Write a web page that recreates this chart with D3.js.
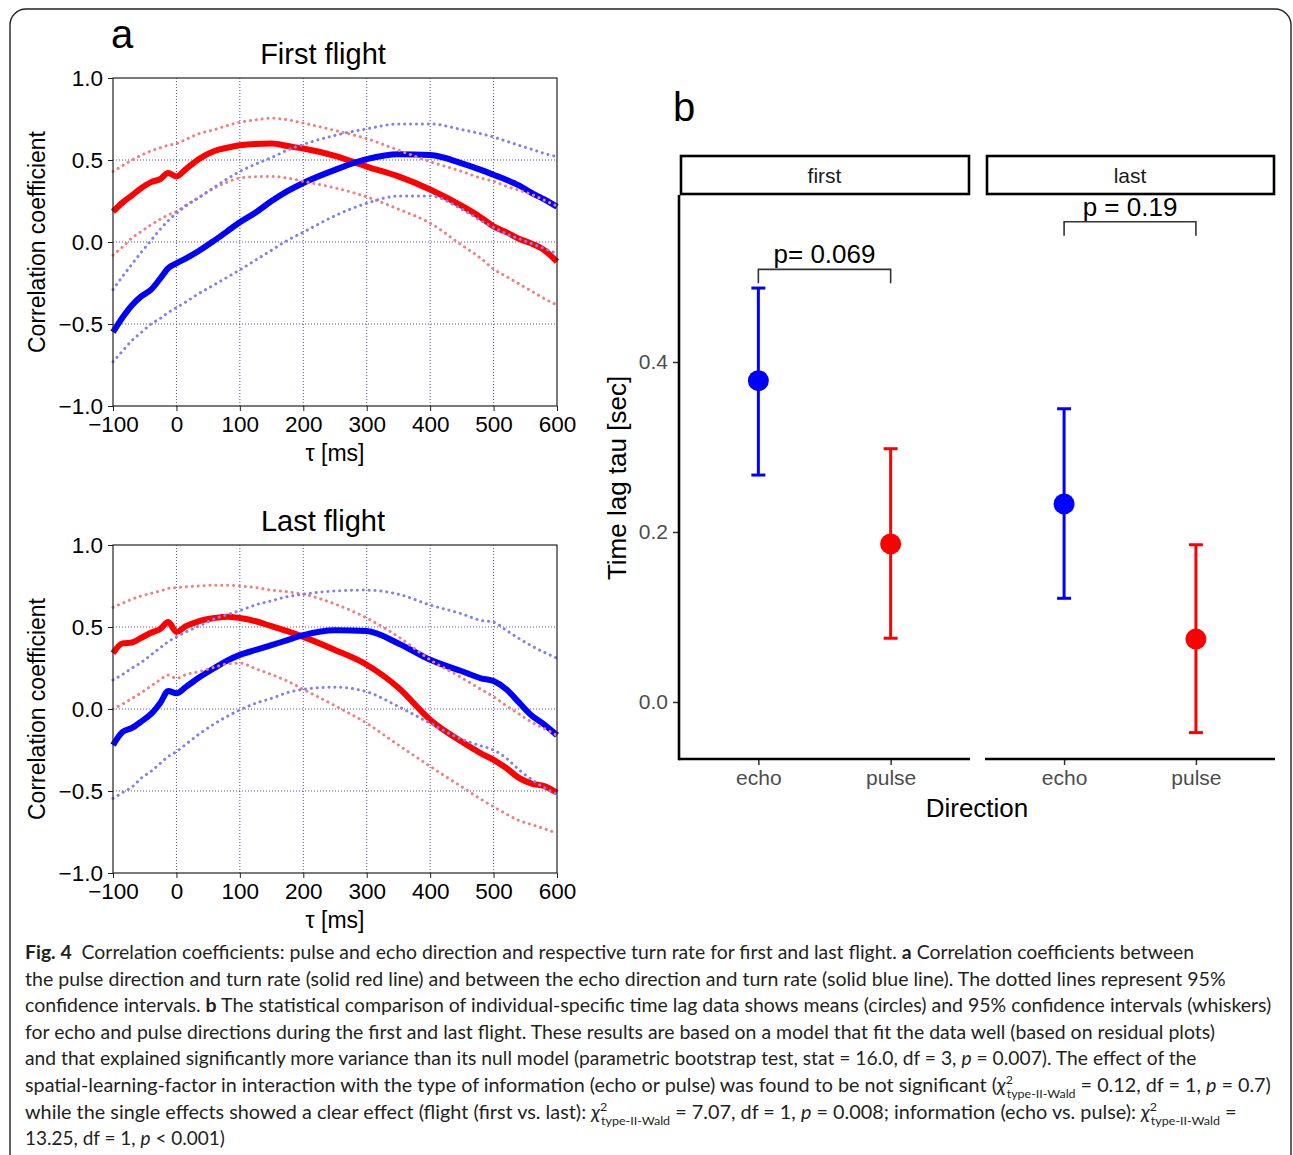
<!DOCTYPE html>
<html lang="en">
<head>
<meta charset="UTF-8">
<title>Fig. 4</title>
<script src="https://d3js.org/d3.v7.min.js"></script>
<style>
  body { margin: 0; background: #fff; }
  svg { display: block; }
  .pa text { font-family: 'Liberation Sans', Arial, sans-serif; fill: #000; }
  .pb text { font-family: 'Liberation Sans', Arial, sans-serif; }
  .cap text { font-family: Lato, 'Noto Sans', sans-serif; font-size: 19px; fill: #231f20; }
</style>
</head>
<body>
<svg id="fig" width="1293" height="1155"></svg>
<script>
// ---- panel a data (tau in ms, correlation coefficients) ----
var tau = [-100, -85, -70, -55, -40, -25, -13, 0, 15, 35, 60, 80, 100, 125, 150, 175, 200,
           250, 300, 350, 400, 450, 480, 500, 520, 540, 560, 580, 600];

// first flight
var pulseFirst   = [0.185, 0.24, 0.285, 0.33, 0.365, 0.385, 0.42, 0.40, 0.445, 0.505, 0.555, 0.575, 0.59, 0.598, 0.60, 0.585, 0.57,
                    0.525, 0.46, 0.40, 0.32, 0.22, 0.15, 0.095, 0.06, 0.02, -0.01, -0.05, -0.12];
var pulseFirstHi = [0.43, 0.465, 0.50, 0.53, 0.555, 0.575, 0.59, 0.60, 0.625, 0.66, 0.685, 0.71, 0.73, 0.745, 0.755, 0.745, 0.725,
                    0.68, 0.63, 0.56, 0.49, 0.43, 0.39, 0.37, 0.34, 0.315, 0.29, 0.255, 0.22];
var pulseFirstLo = [-0.08, -0.03, 0.025, 0.065, 0.105, 0.14, 0.165, 0.185, 0.225, 0.27, 0.33, 0.365, 0.39, 0.398, 0.40, 0.39, 0.37,
                    0.33, 0.275, 0.20, 0.115, -0.02, -0.10, -0.165, -0.21, -0.255, -0.30, -0.345, -0.385];
var echoFirst    = [-0.55, -0.46, -0.385, -0.33, -0.29, -0.22, -0.16, -0.13, -0.10, -0.055, 0.01, 0.065, 0.12, 0.18, 0.25, 0.31, 0.36,
                    0.44, 0.505, 0.535, 0.53, 0.48, 0.44, 0.41, 0.38, 0.345, 0.30, 0.26, 0.215];
var echoFirstHi  = [-0.29, -0.21, -0.135, -0.06, 0.01, 0.08, 0.13, 0.175, 0.22, 0.27, 0.335, 0.385, 0.43, 0.475, 0.515, 0.56, 0.595,
                    0.65, 0.69, 0.72, 0.72, 0.685, 0.66, 0.64, 0.615, 0.59, 0.565, 0.54, 0.52];
var echoFirstLo  = [-0.73, -0.665, -0.60, -0.55, -0.50, -0.465, -0.43, -0.40, -0.365, -0.315, -0.26, -0.215, -0.17, -0.11, -0.05, 0.01, 0.06,
                    0.16, 0.236, 0.28, 0.28, 0.20, 0.13, 0.09, 0.05, 0.02, -0.01, -0.04, -0.07];

// last flight
var pulseLast    = [0.34, 0.40, 0.405, 0.435, 0.465, 0.49, 0.53, 0.47, 0.505, 0.535, 0.555, 0.563, 0.555, 0.535, 0.505, 0.475, 0.44,
                    0.36, 0.27, 0.13, -0.065, -0.20, -0.27, -0.31, -0.36, -0.42, -0.455, -0.47, -0.51];
var pulseLastHi  = [0.62, 0.645, 0.67, 0.69, 0.705, 0.72, 0.735, 0.74, 0.745, 0.75, 0.755, 0.755, 0.75, 0.74, 0.725, 0.715, 0.70,
                    0.64, 0.555, 0.44, 0.30, 0.19, 0.12, 0.075, 0.02, -0.03, -0.08, -0.12, -0.16];
var pulseLastLo  = [0.0, 0.03, 0.065, 0.10, 0.14, 0.18, 0.207, 0.187, 0.21, 0.227, 0.255, 0.275, 0.28, 0.245, 0.21, 0.17, 0.12,
                    0.02, -0.087, -0.22, -0.35, -0.475, -0.55, -0.596, -0.64, -0.68, -0.705, -0.73, -0.758];
var echoLast     = [-0.22, -0.14, -0.115, -0.075, -0.03, 0.04, 0.11, 0.096, 0.135, 0.19, 0.25, 0.295, 0.33, 0.36, 0.39, 0.42, 0.45,
                    0.48, 0.475, 0.40, 0.30, 0.23, 0.187, 0.17, 0.12, 0.04, -0.04, -0.095, -0.16];
var echoLastHi   = [0.177, 0.21, 0.25, 0.285, 0.33, 0.375, 0.41, 0.44, 0.47, 0.505, 0.55, 0.575, 0.60, 0.635, 0.66, 0.685, 0.70,
                    0.72, 0.725, 0.70, 0.634, 0.58, 0.54, 0.53, 0.48, 0.43, 0.385, 0.345, 0.31];
var echoLastLo   = [-0.545, -0.51, -0.475, -0.42, -0.38, -0.33, -0.29, -0.26, -0.215, -0.155, -0.09, -0.045, -0.006, 0.035, 0.065, 0.10, 0.12,
                    0.133, 0.105, 0.015, -0.087, -0.185, -0.225, -0.25, -0.30, -0.37, -0.43, -0.48, -0.52];

var tauTicks = [-100, 0, 100, 200, 300, 400, 500, 600];
var corrTicks = [-1, -0.5, 0, 0.5, 1];

// ---- panel b data (time lag tau in sec) ----
var directions = ["echo", "pulse"];
var flights = ["first", "last"];
var meanFirst  = [0.378, 0.186];
var lowFirst   = [0.267, 0.075];
var highFirst  = [0.487, 0.298];
var meanLast   = [0.233, 0.074];
var lowLast    = [0.122, -0.036];
var highLast   = [0.345, 0.185];
var pLabels = ["p= 0.069", "p = 0.19"];
var lagTicks = [0.0, 0.2, 0.4];

var svg = d3.select("#fig");

// outer rounded frame
svg.append("rect")
  .attr("x", 10).attr("y", 9).attr("width", 1281).attr("height", 1300)
  .attr("rx", 16)
  .attr("fill", "none").attr("stroke", "#222").attr("stroke-width", 1.4);

// ================= panel a =================
var pa = svg.append("g").attr("class", "pa");
pa.append("text").attr("x", 111).attr("y", 48).attr("font-size", 40).text("a");

var x = d3.scaleLinear().domain([-100, 600]).range([113, 557]);

function drawCorr(top, title, pulse, pulseHi, pulseLo, echo, echoHi, echoLo) {
  var y = d3.scaleLinear().domain([-1, 1]).range([top + 328, top]);
  var g = pa.append("g");

  // dotted grid
  g.selectAll(".gx").data(tauTicks.slice(1, -1)).enter().append("line")
    .attr("x1", d => x(d)).attr("x2", d => x(d))
    .attr("y1", y(-1)).attr("y2", y(1))
    .attr("stroke", "#3a3aa8").attr("stroke-width", 0.9).attr("stroke-dasharray", "1,2");
  g.selectAll(".gy").data(corrTicks.slice(1, -1)).enter().append("line")
    .attr("y1", d => y(d)).attr("y2", d => y(d))
    .attr("x1", x(-100)).attr("x2", x(600))
    .attr("stroke", "#3a3aa8").attr("stroke-width", 0.9).attr("stroke-dasharray", "1,2");

  var line = d3.line().x((d, i) => x(tau[i])).y(d => y(d)).curve(d3.curveMonotoneX);

  [[pulse, "#ff0000"], [echo, "#0000ff"]].forEach(function (s) {
    g.append("path").datum(s[0]).attr("d", line)
      .attr("fill", "none").attr("stroke", s[1]).attr("stroke-width", 6)
      .attr("stroke-linejoin", "round");
  });
  [[pulseHi, "#f27f7f"], [pulseLo, "#f27f7f"], [echoHi, "#8080f2"], [echoLo, "#8080f2"]].forEach(function (s) {
    g.append("path").datum(s[0]).attr("d", line)
      .attr("fill", "none").attr("stroke", s[1]).attr("stroke-width", 3)
      .attr("stroke-linecap", "round").attr("stroke-dasharray", "0.1,5.8");
  });

  // frame
  g.append("rect").attr("x", x(-100)).attr("y", y(1))
    .attr("width", x(600) - x(-100)).attr("height", y(-1) - y(1))
    .attr("fill", "none").attr("stroke", "#222").attr("stroke-width", 1.2);

  var ax = g.append("g").attr("transform", "translate(0," + y(-1) + ")")
    .call(d3.axisBottom(x).tickValues(tauTicks).tickSize(5).tickPadding(5).tickFormat(d3.format("d")));
  var ay = g.append("g").attr("transform", "translate(" + x(-100) + ",0)")
    .call(d3.axisLeft(y).tickValues(corrTicks).tickSize(5).tickPadding(5).tickFormat(d3.format(".1f")));
  [ax, ay].forEach(function (a) {
    a.select(".domain").remove();
    a.selectAll("line").attr("stroke", "#222");
    a.selectAll("text").attr("font-size", 22.5).attr("font-family", "'Liberation Sans', Arial, sans-serif").attr("fill", "#000");
  });

  g.append("text").attr("x", 323).attr("y", top - 14).attr("text-anchor", "middle")
    .attr("font-size", 29).text(title);
  g.append("text").attr("x", 335).attr("y", top + 383).attr("text-anchor", "middle")
    .attr("font-size", 23).text("τ [ms]");
  g.append("text").attr("transform", "translate(45," + (top + 164) + ") rotate(-90)")
    .attr("text-anchor", "middle").attr("font-size", 23).text("Correlation coefficient");
}

drawCorr(78, "First flight", pulseFirst, pulseFirstHi, pulseFirstLo, echoFirst, echoFirstHi, echoFirstLo);
drawCorr(545, "Last flight", pulseLast, pulseLastHi, pulseLastLo, echoLast, echoLastHi, echoLastLo);

// ================= panel b =================
var pb = svg.append("g").attr("class", "pb");
pb.append("text").attr("x", 673).attr("y", 121).attr("font-size", 40).attr("fill", "#000").text("b");

var yb = d3.scaleLinear().domain([0, 0.4]).range([702, 362]);
var panelTop = 195, panelBottom = 759;
var panels = [
  { flight: flights[0], x0: 679, x1: 970, mean: meanFirst, lo: lowFirst, hi: highFirst, p: pLabels[0], bracket: 0.509 },
  { flight: flights[1], x0: 985, x1: 1275, mean: meanLast, lo: lowLast, hi: highLast, p: pLabels[1], bracket: 0.565 }
];
var dirColor = d3.scaleOrdinal().domain(directions).range(["#0000ff", "#ff0000"]);

panels.forEach(function (p, k) {
  var xb = d3.scalePoint().domain(directions).range([p.x0, p.x1]).padding(0.6);
  var g = pb.append("g");

  // strip
  g.append("rect").attr("x", p.x0 + 2).attr("y", 156).attr("width", p.x1 - p.x0 - 3).attr("height", 38)
    .attr("fill", "#fff").attr("stroke", "#000").attr("stroke-width", 2.6);
  g.append("text").attr("x", (p.x0 + p.x1) / 2).attr("y", 183).attr("text-anchor", "middle")
    .attr("font-size", 21).attr("fill", "#1a1a1a").text(p.flight);

  // bottom axis
  var ax = g.append("g").attr("transform", "translate(0," + panelBottom + ")")
    .call(d3.axisBottom(xb).tickSize(6).tickPadding(5));
  ax.select(".domain").remove();
  ax.selectAll("line").attr("stroke", "#333").attr("stroke-width", 1.5);
  ax.selectAll("text").attr("font-size", 21).attr("fill", "#4d4d4d")
    .attr("font-family", "'Liberation Sans', Arial, sans-serif");
  g.append("line").attr("x1", p.x0).attr("x2", p.x1).attr("y1", panelBottom).attr("y2", panelBottom)
    .attr("stroke", "#000").attr("stroke-width", 2.6);

  if (k === 0) {
    var ay = g.append("g").attr("transform", "translate(" + p.x0 + ",0)")
      .call(d3.axisLeft(yb).tickValues(lagTicks).tickSize(6).tickPadding(5).tickFormat(d3.format(".1f")));
    ay.select(".domain").remove();
    ay.selectAll("line").attr("stroke", "#333").attr("stroke-width", 1.5);
    ay.selectAll("text").attr("font-size", 21).attr("fill", "#4d4d4d")
      .attr("font-family", "'Liberation Sans', Arial, sans-serif");
    g.append("line").attr("x1", p.x0).attr("x2", p.x0).attr("y1", panelTop).attr("y2", panelBottom + 1.3)
      .attr("stroke", "#000").attr("stroke-width", 2.6);
  }

  // error bars + means
  directions.forEach(function (d, i) {
    var cx = xb(d), c = dirColor(d);
    g.append("line").attr("x1", cx).attr("x2", cx).attr("y1", yb(p.lo[i])).attr("y2", yb(p.hi[i]))
      .attr("stroke", c).attr("stroke-width", 3);
    [p.lo[i], p.hi[i]].forEach(function (v) {
      g.append("line").attr("x1", cx - 7).attr("x2", cx + 7).attr("y1", yb(v)).attr("y2", yb(v))
        .attr("stroke", c).attr("stroke-width", 3);
    });
    g.append("circle").attr("cx", cx).attr("cy", yb(p.mean[i])).attr("r", 10.5).attr("fill", c);
  });

  // significance bracket
  var by = yb(p.bracket), tip = 14;
  g.append("path")
    .attr("d", "M" + xb(directions[0]) + "," + (by + tip) + "V" + by + "H" + xb(directions[1]) + "V" + (by + tip))
    .attr("fill", "none").attr("stroke", "#333").attr("stroke-width", 1.6);
  g.append("text").attr("x", (xb(directions[0]) + xb(directions[1])) / 2).attr("y", by - 6)
    .attr("text-anchor", "middle").attr("font-size", 26).attr("fill", "#000").text(p.p);
});

pb.append("text").attr("x", 977).attr("y", 817).attr("text-anchor", "middle")
  .attr("font-size", 26).attr("fill", "#000").text("Direction");
pb.append("text").attr("transform", "translate(626,478) rotate(-90)").attr("text-anchor", "middle")
  .attr("font-size", 26).attr("fill", "#000").text("Time lag tau [sec]");

// ================= caption =================
var chi = [{ t: "χ", i: true }, { t: "2", sup: true }, { t: "type-II-Wald", sub: true }];
var capLines = [
  { w: 1170, segs: [{ t: "Fig. 4", b: true }, { t: "  Correlation coefficients: pulse and echo direction and respective turn rate for first and last flight. " }, { t: "a", b: true }, { t: " Correlation coefficients between" }] },
  { w: 1201, segs: [{ t: "the pulse direction and turn rate (solid red line) and between the echo direction and turn rate (solid blue line). The dotted lines represent 95%" }] },
  { w: 1247, segs: [{ t: "confidence intervals. " }, { t: "b", b: true }, { t: " The statistical comparison of individual-specific time lag data shows means (circles) and 95% confidence intervals (whiskers)" }] },
  { w: 1190, segs: [{ t: "for echo and pulse directions during the first and last flight. These results are based on a model that fit the data well (based on residual plots)" }] },
  { w: 1172, segs: [{ t: "and that explained significantly more variance than its null model (parametric bootstrap test, stat = 16.0, df = 3, " }, { t: "p", i: true }, { t: " = 0.007). The effect of the" }] },
  { w: 1247, segs: [{ t: "spatial-learning-factor in interaction with the type of information (echo or pulse) was found to be not significant (" }].concat(chi, [{ t: " = 0.12, df = 1, " }, { t: "p", i: true }, { t: " = 0.7)" }]) },
  { w: 1213, segs: [{ t: "while the single effects showed a clear effect (flight (first vs. last): " }].concat(chi, [{ t: " = 7.07, df = 1, " }, { t: "p", i: true }, { t: " = 0.008; information (echo vs. pulse): " }], chi, [{ t: " =" }]) },
  { w: 200, segs: [{ t: "13.25, df = 1, " }, { t: "p", i: true }, { t: " < 0.001)" }] }
];

var cap = svg.append("g").attr("class", "cap");
capLines.forEach(function (ln, k) {
  var t = cap.append("text").attr("x", 0).attr("y", 0).attr("xml:space", "preserve");
  var shift = 0;
  ln.segs.forEach(function (s) {
    var sp = t.append("tspan").text(s.t);
    if (s.b) sp.attr("font-weight", "bold");
    if (s.i) sp.attr("font-style", "italic");
    if (s.sup) { sp.attr("font-size", 12).attr("dy", -8 - shift); shift = -8; }
    else if (s.sub) { sp.attr("font-size", 12).attr("dx", -6).attr("dy", 6 - shift); shift = 6; }
    else if (shift !== 0) { sp.attr("dy", -shift); shift = 0; }
  });
  var w = t.node().getBBox().width;
  t.attr("transform", "translate(25," + (959 + k * 26.6) + ") scale(" + (ln.w / w) + ",1)");
});
</script>
</body>
</html>
